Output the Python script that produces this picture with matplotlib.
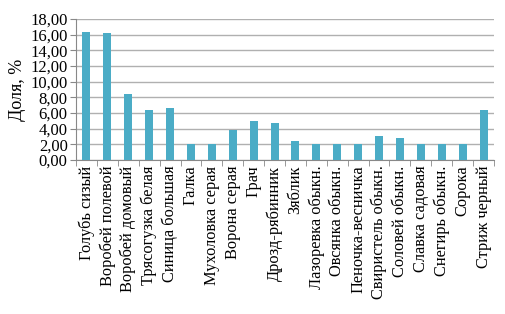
import matplotlib
matplotlib.use("Agg")
import matplotlib.pyplot as plt
import numpy as np

categories = ["Голубь сизый", "Воробей полевой", "Воробей домовый", "Трясогузка белая",
              "Синица большая", "Галка", "Мухоловка серая", "Ворона серая", "Грач",
              "Дрозд-рябинник", "Зяблик", "Лазоревка обыкн.", "Овсянка обыкн.",
              "Пеночка-весничка", "Свиристель обыкн.", "Соловей обыкн.", "Славка садовая",
              "Снегирь обыкн.", "Сорока", "Стриж черный"]
values = [16.4, 16.2, 8.4, 6.4, 6.6, 2.1, 2.1, 3.8, 5.0, 4.7, 2.4, 2.1, 2.1, 2.1,
          3.1, 2.8, 2.1, 2.1, 2.1, 6.4]
yticks = [0, 2, 4, 6, 8, 10, 12, 14, 16, 18]
ytick_labels = ["0,00", "2,00", "4,00", "6,00", "8,00", "10,00", "12,00", "14,00", "16,00", "18,00"]

plt.rcParams['font.family'] = ['Liberation Serif', 'DejaVu Serif']

fig = plt.figure(figsize=(5.06, 3.14), dpi=100)
ax = fig.add_axes([76/506, 1 - 160/314, (494 - 76)/506, (160 - 19)/314])

x = np.arange(len(categories))
ax.bar(x, values, width=0.38, color="#4BACC6", zorder=3)
ax.set_xlim(-0.5, len(categories) - 0.5)
ax.set_ylim(0, 18)
ax.set_yticks(yticks)
ax.set_yticklabels(ytick_labels, fontsize=12)
ax.yaxis.grid(True, color="#B0B0B0", linewidth=1, zorder=0)
ax.set_xticks(x)
ax.set_xticklabels(categories, rotation=90, fontsize=11.8)
ax.set_xticks(np.arange(-0.5, len(categories), 1), minor=True)
ax.tick_params(axis='x', which='major', length=0, pad=4)
ax.tick_params(axis='x', which='minor', length=4, color="#888888")
ax.tick_params(axis='y', length=4, color="#888888", pad=2)
for s in ["top", "right"]:
    ax.spines[s].set_visible(False)
ax.spines["left"].set_color("#888888")
ax.spines["bottom"].set_color("#888888")
ax.set_ylabel("Доля, %", fontsize=13, labelpad=3)

fig.savefig("out.png", dpi=100)
